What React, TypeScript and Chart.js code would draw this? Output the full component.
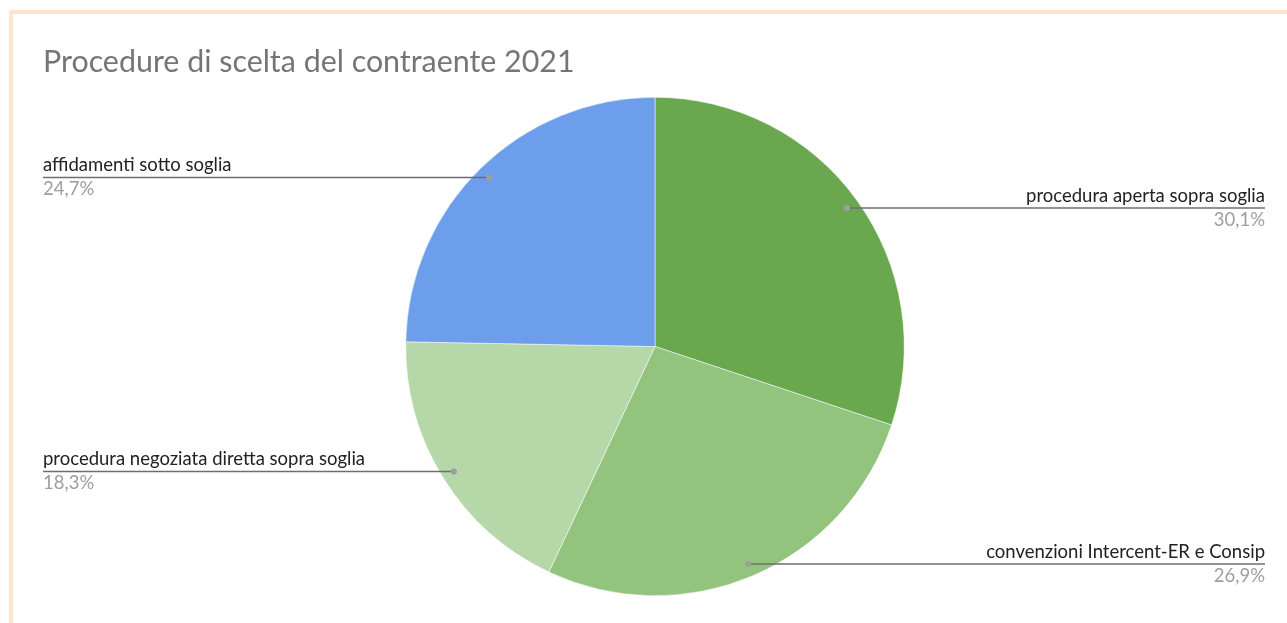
import React, { useEffect, useRef } from "react";
import { Chart, registerables } from "chart.js";

Chart.register(...registerables);

const title = "Procedure di scelta del contraente 2021";
const categories = [
  "procedura aperta sopra soglia",
  "convenzioni Intercent-ER e Consip",
  "procedura negoziata diretta sopra soglia",
  "affidamenti sotto soglia",
];
const percentages = [30.1, 26.9, 18.3, 24.7];
const percentLabels = ["30,1%", "26,9%", "18,3%", "24,7%"];
const colors = ["#6aa84f", "#93c47d", "#b6d7a8", "#6d9eeb"];

const FONT = "Lato";

const labelPlugin = {
  id: "sheetLabels",
  afterDraw(chart: any) {
    const ctx = chart.ctx as CanvasRenderingContext2D;
    const meta = chart.getDatasetMeta(0);
    const leftX = 43;
    const rightX = 1265;
    ctx.save();
    // title
    ctx.fillStyle = "#757575";
    ctx.font = `30.4px ${FONT}`;
    ctx.textAlign = "left";
    ctx.textBaseline = "alphabetic";
    ctx.fillText(title, 43, 72);

    meta.data.forEach((arc: any, i: number) => {
      const p = arc.getProps(["x", "y", "startAngle", "endAngle", "outerRadius"], true);
      const mid = (p.startAngle + p.endAngle) / 2;
      const r = p.outerRadius * 0.95;
      const dx = p.x + Math.cos(mid) * r;
      const dy = p.y + Math.sin(mid) * r;
      const right = Math.cos(mid) > 0;
      ctx.strokeStyle = "#6e6e6e";
      ctx.lineWidth = 1.5;
      ctx.beginPath();
      if (right) {
        ctx.moveTo(dx, dy);
        ctx.lineTo(rightX, dy);
      } else {
        ctx.moveTo(leftX, dy);
        ctx.lineTo(dx, dy);
      }
      ctx.stroke();
      ctx.fillStyle = "#9e9e9e";
      ctx.beginPath();
      ctx.arc(dx, dy, 3, 0, Math.PI * 2);
      ctx.fill();

      ctx.textAlign = right ? "right" : "left";
      const tx = right ? rightX : leftX;
      ctx.font = `18.5px ${FONT}`;
      ctx.fillStyle = "#222222";
      ctx.fillText(categories[i], tx, dy - 6);
      ctx.fillStyle = "#9e9e9e";
      ctx.fillText(percentLabels[i], tx, dy + 18);
    });
    ctx.restore();
  },
};

export default function App() {
  const ref = useRef<HTMLCanvasElement>(null);
  useEffect(() => {
    if (!ref.current) return;
    const chart = new Chart(ref.current, {
      type: "pie",
      data: {
        labels: categories,
        datasets: [
          {
            data: percentages,
            backgroundColor: colors,
            borderColor: "#ffffff",
            borderWidth: 0.5,
          },
        ],
      },
      options: {
        responsive: false,
        animation: false,
        layout: { padding: { top: 97, bottom: 27, left: 300, right: 277 } },
        plugins: {
          legend: { display: false },
          tooltip: { enabled: false },
          title: { display: false },
        },
      },
      plugins: [labelPlugin],
    });
    return () => chart.destroy();
  }, []);
  return (
    <div style={{ position: "fixed", left: 0, top: 0, width: 1287, height: 623, background: "#ffffff", overflow: "hidden" }}>
      <canvas ref={ref} width={1287} height={623} style={{ position: "absolute", left: 0, top: 0 }} />
      <div
        style={{
          position: "absolute",
          left: 9,
          top: 10,
          width: 1400,
          height: 800,
          borderLeft: "4px solid #fce5cd",
          borderTop: "4px solid #fce5cd",
          boxSizing: "border-box",
          pointerEvents: "none",
        }}
      />
    </div>
  );
}
